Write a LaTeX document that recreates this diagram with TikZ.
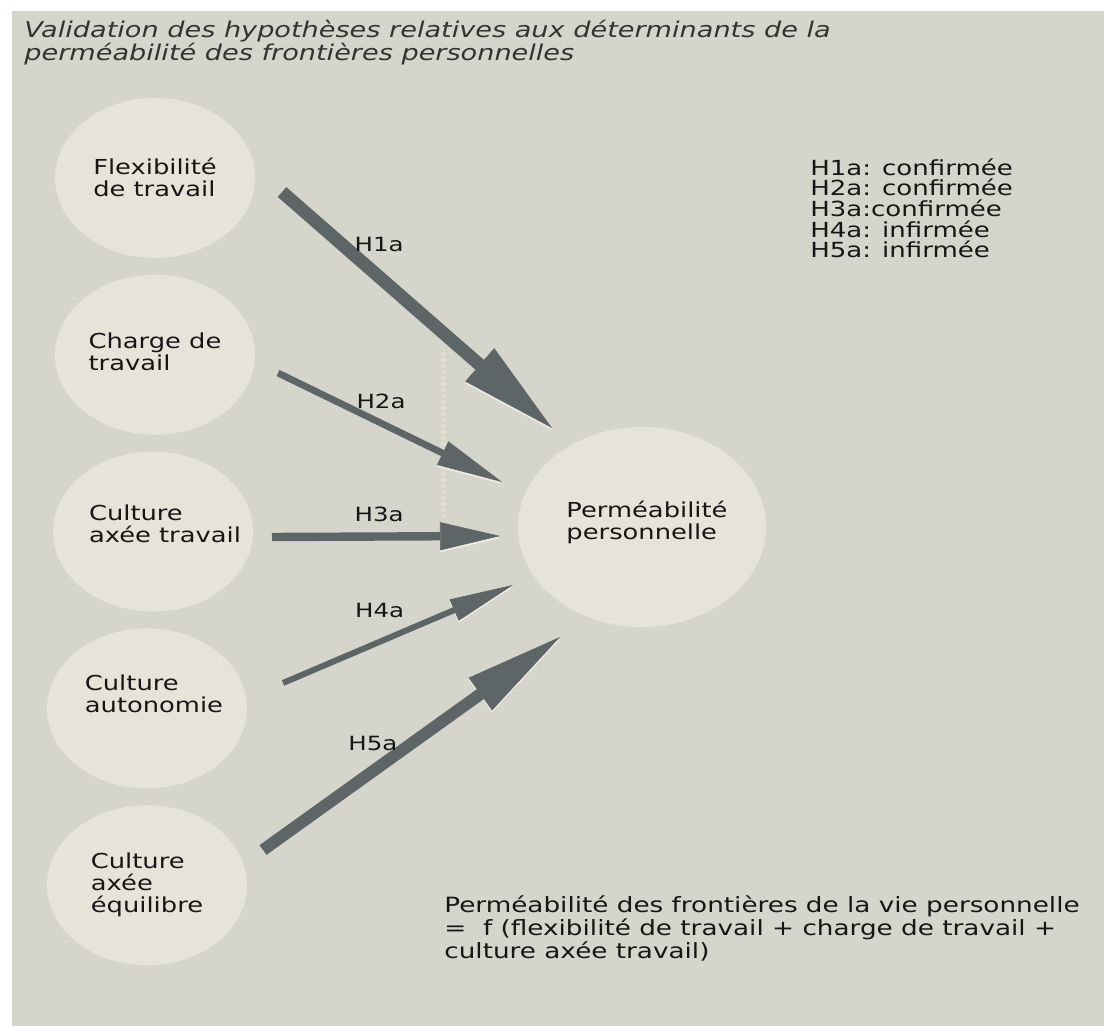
\documentclass[tikz,border=0pt]{standalone}
\usepackage{fontspec}
\setmainfont{DejaVu Sans}[FakeStretch=1.25,ItalicFont={DejaVu Sans Oblique}]
\usepackage{xcolor}
\usetikzlibrary{shapes.geometric, arrows.meta, positioning}
\definecolor{fond}{HTML}{D5D5CC}
\definecolor{bulle}{HTML}{E6E3D9}
\definecolor{fleche}{HTML}{5E6567}
\definecolor{reflet}{HTML}{EEEBE1}
\definecolor{trace}{HTML}{E2DCCD}
\definecolor{encre}{HTML}{161616}
\definecolor{titre}{HTML}{333333}

\begin{document}
\begin{tikzpicture}[x=0.5pt,y=-0.5pt,node distance=8pt,factor/.style={ellipse,fill=bulle,minimum width=100pt,minimum height=80pt,inner xsep=-10pt,inner ysep=0pt,align=left,text depth=0pt,text=encre,font=\fontsize{10.3}{11}\selectfont},hyp/.style={text=encre,inner sep=0pt,font=\fontsize{9.8}{10}\selectfont},arr/.style n args={3}{draw=fleche,line width=#1,-{Triangle[length=#2,width=#3,line width=0.3pt]},preaction={draw=reflet,transform canvas={yshift=-1pt}}},note/.style={anchor=base west,align=left,inner sep=0pt,text=encre}]
  \fill[white] (0,0) rectangle (1104,1026);
  \fill[fond] (12,11) rectangle (1104,1026);
  \useasboundingbox (0,0) rectangle (1104,1026);
  \node[note,text=titre,font=\fontsize{10.85}{10.2}\selectfont\itshape] (titre) at (24,61) {Validation des hypothèses relatives aux déterminants de la\\perméabilité des frontières personnelles};
  \node[factor,text height=19pt] (flex) at (155,178) {Flexibilité\\de travail};
  \node[factor,text height=16pt,below=of flex] (charge) {Charge de\\travail};
  \node[factor,text height=11pt,below=of charge,xshift=-1pt] (cultrav) {\hspace*{12pt}Culture\\\hspace*{12pt}axée travail};
  \node[factor,text height=4pt,below=of cultrav,xshift=-3pt] (autonomie) {\hspace*{7pt}Culture\\\hspace*{7pt}autonomie};
  \node[factor,text height=27pt,below=of autonomie] (equilibre) {Culture\\axée\\équilibre};
  \node[factor,minimum width=124pt,minimum height=100pt,text height=13pt] (perm) at (642,527) {\hspace*{5pt}Perméabilité\\\hspace*{5pt}personnelle};
  \node[note,font=\fontsize{10.4}{10.35}\selectfont] (bilan) at (810,258) {H1a: confirmée\\H2a: confirmée\\H3a:confirmée\\H4a: infirmée\\H5a: infirmée};
  \node[note,font=\fontsize{10.5}{11.5}\selectfont] (equation) at (444,958) {Perméabilité des frontières de la vie personnelle\\=~~f (flexibilité de travail + charge de travail +\\culture axée travail)};
  % trace claire derriere les fleches
  \draw[trace,line width=2.5pt,dash pattern=on 2pt off 1pt] (443,352) -- (443,520);
  \coordinate (d1) at (282,192);
  \coordinate (a1) at (552,428);
  \coordinate (d2) at (278,373);
  \coordinate (a2) at (502,482);
  \coordinate (d3) at (272,537);
  \coordinate (a3) at (500,536);
  \coordinate (d4) at (283,683);
  \coordinate (a4) at (513,585);
  \coordinate (d5) at (263,850);
  \coordinate (a5) at (560,637);
  \draw[arr={6.5pt}{48pt}{22pt}] (d1) -- node[hyp,pos=.36,above=9.5pt] {H1a} (a1);
  \draw[arr={3.4pt}{33pt}{13pt}] (d2) -- node[hyp,pos=.46,above=5.5pt] {H2a} (a2);
  \draw[arr={4.2pt}{30pt}{14pt}] (d3) -- node[hyp,pos=.47,above=5.5pt] {H3a} (a3);
  \draw[arr={3pt}{32pt}{11.5pt}] (d4) -- node[hyp,pos=.42,above=10.5pt] {H4a} (a4);
  \draw[arr={6pt}{49pt}{20pt}] (d5) -- node[hyp,pos=.37,above=7pt] {H5a} (a5);
\end{tikzpicture}
\end{document}
